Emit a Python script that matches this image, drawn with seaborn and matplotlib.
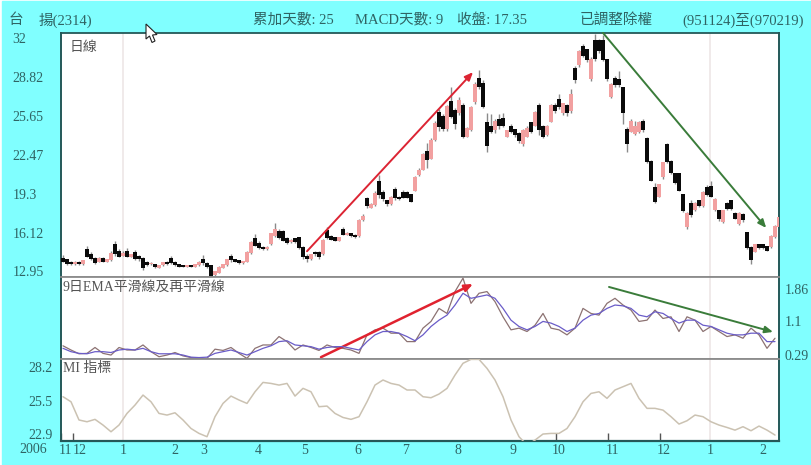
import numpy as np
import pandas as pd
import matplotlib
matplotlib.use("Agg")
import matplotlib.pyplot as plt
from matplotlib.patches import Polygon, Rectangle
import seaborn as sns

W, H = 812, 465

# daily candles
opens = [14.0,13.9,13.7,13.6,13.7,13.6,14.7,14.3,14.0,13.8,
         14.0,13.8,13.9,15.1,14.6,14.3,14.6,14.2,14.5,14.2,
         14.0,13.7,13.6,13.5,13.3,13.5,13.7,14.0,13.7,13.5,
         13.45,13.4,13.45,13.4,13.5,13.9,13.6,13.4,12.7,12.9,
         13.3,13.5,14.2,13.9,13.8,13.7,13.8,14.5,15.6,15.2,
         14.9,14.8,15.2,15.9,16.2,16.2,15.6,15.4,15.6,15.7,
         14.9,14.2,14.0,14.5,14.5,14.4,16.3,15.8,15.7,15.5,
         16.4,16.0,16.0,15.9,15.9,17.2,18.9,18.2,18.4,20.3,
         19.4,18.7,18.5,19.6,19.0,19.4,19.4,19.2,19.6,20.9,
         21.3,22.7,22.2,23.7,25.9,25.6,24.6,26.8,26.1,25.9,
         26.5,24.0,24.5,26.8,28.7,28.3,25.05,24.8,24.5,25.3,
         25.4,24.0,24.8,24.5,24.2,23.4,24.0,25.05,24.9,26.5,
         24.8,24.1,25.2,26.5,26.95,25.9,26.5,26.1,29.5,29.8,
         31.3,31.0,28.7,31.8,31.8,31.8,30.2,27.2,28.7,28.6,
         27.9,24.5,24.4,24.2,24.4,25.2,23.8,21.9,19.8,19.1,
         20.7,23.3,21.9,20.9,20.9,19.2,16.6,18.5,18.0,18.7,
         18.3,19.8,19.9,18.0,17.9,17.05,18.5,18.7,17.7,16.9,
         17.6,16.1,14.9,14.6,15.1,15.15,15.0,15.0,15.8,16.6]
closes = [13.8,13.6,13.6,13.7,13.6,13.8,14.2,14.0,13.7,14.0,
          13.8,13.9,14.4,14.4,14.2,14.4,14.2,14.3,14.0,14.0,
          13.3,13.55,13.6,13.35,13.45,13.65,13.6,13.7,13.5,13.4,
          13.35,13.45,13.35,13.5,13.7,13.7,13.4,12.6,12.9,13.3,
          13.5,13.9,13.9,13.75,13.7,13.75,14.5,15.3,15.1,14.9,
          14.8,14.9,16.0,16.4,15.7,15.5,15.3,15.5,15.4,14.9,
          14.2,14.0,14.3,14.4,14.2,15.5,15.7,15.6,15.5,15.7,
          16.0,16.05,15.9,15.85,17.1,17.4,18.3,18.4,19.3,19.2,
          18.9,18.5,19.0,19.0,18.9,19.0,19.0,18.7,20.6,21.2,
          22.5,22.1,23.6,25.0,24.8,24.6,26.4,25.6,25.0,26.9,
          24.0,24.6,26.3,28.2,28.0,26.4,23.2,24.4,25.2,24.9,
          24.9,24.4,24.4,24.1,23.6,24.4,24.6,24.4,25.9,24.5,
          24.0,24.8,26.5,26.1,26.4,26.6,25.9,27.4,28.6,30.9,
          30.6,30.2,30.2,30.3,31.0,30.2,28.7,28.2,28.2,28.2,
          25.9,23.4,25.2,24.8,25.05,24.5,21.9,20.4,18.7,20.0,
          21.8,21.9,21.0,20.2,19.6,17.9,17.7,17.6,18.5,18.3,
          19.4,19.2,19.1,18.8,17.3,17.9,18.1,18.1,17.3,17.7,
          17.2,14.9,13.9,15.1,14.9,14.9,14.7,15.8,16.6,17.35]
highs = [14.3,14.0,13.8,13.8,13.8,13.9,15.0,14.5,14.1,14.1,
         14.1,14.0,14.6,15.4,14.8,14.6,14.9,14.4,14.7,14.3,
         14.1,13.8,13.7,13.6,13.5,13.7,13.8,14.2,13.8,13.6,
         13.5,13.5,13.5,13.6,13.8,14.3,13.7,13.5,12.9,13.4,
         13.6,14.0,14.4,14.0,13.9,13.8,14.6,15.4,16.0,15.4,
         15.0,15.0,16.1,16.9,16.4,16.3,15.8,15.6,15.7,15.8,
         15.0,14.4,14.4,14.6,14.6,15.6,16.6,15.9,15.8,15.8,
         16.6,16.2,16.1,16.0,17.2,17.6,19.0,18.5,19.5,20.8,
         19.6,18.8,19.1,19.8,19.1,19.6,19.5,19.3,20.7,21.4,
         22.6,23.4,23.8,25.2,26.2,25.8,26.5,28.0,26.3,27.2,
         26.7,24.7,26.4,28.4,29.4,28.6,25.9,25.8,25.4,25.8,
         25.9,24.5,25.0,24.6,24.3,24.6,24.8,25.1,26.0,26.7,
         24.9,24.9,26.6,26.7,27.4,26.7,26.6,27.8,29.7,31.0,
         31.5,31.1,30.4,32.3,31.9,32.2,30.3,28.3,28.9,29.3,
         28.0,24.7,25.4,25.2,25.2,25.4,23.9,22.0,20.2,20.1,
         21.9,23.4,22.0,21.0,21.0,19.3,17.8,18.8,18.6,18.8,
         19.5,20.0,20.3,18.9,18.0,18.0,18.6,18.8,17.8,17.8,
         17.7,16.2,15.0,15.2,15.2,15.2,15.0,15.9,16.7,17.5]
lows = [13.7,13.5,13.5,13.5,13.5,13.5,14.1,13.9,13.6,13.7,
        13.7,13.7,13.8,14.2,14.1,14.2,14.1,14.1,13.9,13.8,
        13.1,13.4,13.5,13.2,13.2,13.4,13.5,13.6,13.4,13.3,
        13.3,13.3,13.3,13.3,13.4,13.5,13.2,12.4,12.6,12.8,
        13.2,13.4,13.7,13.7,13.6,13.6,13.7,14.4,15.0,14.8,
        14.7,14.7,15.1,15.8,15.6,15.4,15.2,15.3,15.3,14.8,
        14.0,13.7,13.9,14.2,14.0,14.3,15.6,15.5,15.4,15.4,
        15.9,15.9,15.8,15.7,15.8,17.1,18.1,18.1,18.3,18.9,
        18.7,18.3,18.4,18.8,18.8,18.9,18.9,18.6,19.5,20.7,
        21.2,21.4,22.1,23.6,24.4,24.4,24.4,25.5,24.6,25.7,
        23.8,23.9,24.4,26.6,27.8,26.3,22.7,24.2,24.2,24.6,
        24.7,23.9,24.2,23.9,23.4,23.2,23.9,24.2,24.8,24.1,
        23.8,24.0,25.1,25.9,26.2,25.7,25.6,25.9,28.3,29.6,
        30.4,30.0,28.5,30.1,30.8,30.1,28.5,27.1,28.0,28.0,
        25.0,22.7,24.3,24.1,24.2,24.3,21.8,20.3,18.5,19.0,
        20.5,21.8,20.9,20.1,19.5,17.8,16.4,17.4,17.9,18.2,
        18.2,19.1,19.0,17.9,17.1,16.9,18.0,18.0,17.2,16.7,
        17.0,14.8,13.6,14.5,14.8,14.8,14.6,14.9,15.7,16.5]

# EMA lines, one reading every second day
ema_fast = [0.51,0.41,0.32,0.33,0.47,0.33,0.29,0.47,0.41,0.41,
            0.53,0.37,0.25,0.29,0.35,0.27,0.23,0.21,0.21,0.43,
            0.40,0.47,0.33,0.21,0.45,0.53,0.53,0.73,0.61,0.41,
            0.53,0.47,0.40,0.53,0.47,0.45,0.41,0.33,0.77,0.89,
            0.93,0.81,0.81,0.61,0.61,0.93,1.09,1.40,1.28,1.80,
            2.12,1.52,1.76,1.80,1.56,1.20,0.89,0.93,0.85,1.00,
            1.28,0.93,0.89,0.77,0.93,1.40,1.28,1.24,1.52,1.64,
            1.48,1.36,1.09,1.12,1.36,1.16,1.20,0.85,1.20,1.12,
            0.85,0.97,0.85,0.73,0.77,0.69,0.93,0.77,0.45,0.69]
ema_slow = [0.45,0.37,0.33,0.32,0.37,0.37,0.35,0.41,0.43,0.41,
            0.45,0.37,0.32,0.32,0.32,0.29,0.24,0.23,0.24,0.33,
            0.37,0.41,0.35,0.29,0.37,0.45,0.51,0.61,0.63,0.53,
            0.51,0.49,0.43,0.47,0.49,0.49,0.45,0.41,0.61,0.77,
            0.85,0.85,0.81,0.73,0.63,0.77,0.97,1.12,1.24,1.48,
            1.76,1.64,1.68,1.72,1.64,1.40,1.12,0.97,0.89,0.97,
            1.09,1.05,0.97,0.85,0.93,1.12,1.24,1.28,1.40,1.48,
            1.46,1.40,1.24,1.20,1.32,1.28,1.16,1.05,1.12,1.12,
            1.00,0.97,0.89,0.81,0.77,0.77,0.81,0.81,0.61,0.61]

# MI line, one reading every second day
mi_vals = [25.84,25.44,24.0,23.86,24.05,23.6,23.07,23.6,24.52,25.18,
           25.97,25.44,24.52,24.39,24.57,24.0,23.33,22.94,22.68,24.26,
           25.31,25.89,25.58,25.31,26.23,26.97,26.89,26.76,26.89,25.89,
           26.5,26.23,25.05,25.1,24.52,24.2,24.05,24.26,25.44,26.76,
           27.16,26.89,26.76,26.37,26.37,25.84,25.76,26.05,26.5,27.55,
           28.48,28.79,28.79,28.08,27.16,25.84,24.0,22.68,22.02,22.41,
           22.89,22.94,22.94,23.33,24.26,25.44,26.1,26.23,25.71,26.37,
           26.63,26.89,25.71,24.92,24.92,24.78,24.26,23.68,23.94,24.39,
           24.26,23.86,23.6,23.41,23.2,23.47,23.15,23.52,23.2,22.81]

price_ticks = [32, 28.82, 25.65, 22.47, 19.3, 16.12, 12.95]
ema_ticks = [1.86, 1.1, 0.29]
mi_ticks = [28.2, 25.5, 22.9]
month_labels = ["11","12","1","2","3","4","5","6","7","8","9","10","11","12","1","2"]
month_label_pos = [0.5,4.25,15,28,35.25,48.75,60.5,73.75,85.75,98.75,112.5,124,137.25,150.25,161.75,175]
month_tick_pos = [-0.5,2.5,15,28,35.25,48.75,60.5,73.75,85.75,98.75,112.5,123.25,136.25,149.25,161.75,175]

CYAN = "#80FFFF"
TEAL = "#2F6464"
FRAME = "#245858"
DIV = "#8C8C8C"
GRID = "#EDE6E6"

sns.set_theme(style="white")
plt.rcParams["font.family"] = ["Liberation Serif", "Noto Sans CJK TC"]


def make_axes(fig, left, top, right, bottom):
    return fig.add_axes([left / W, 1 - bottom / H, (right - left) / W, (bottom - top) / H])


def put_text(fig, px, py, s, size=10.5, color=TEAL):
    fig.text(px / W, 1 - py / H, s, fontsize=size, color=color, ha="left", va="center")


def arrow(ax, start, end, color, lw=1.4):
    ax.annotate("", xy=end, xytext=start, annotation_clip=False,
                arrowprops=dict(arrowstyle="-|>,head_length=0.4,head_width=0.17", color=color,
                                lw=lw, shrinkA=0, shrinkB=0))


fig = plt.figure(figsize=(W / 100, H / 100), dpi=100, facecolor="white")
fig.add_artist(Rectangle((2 / W, 0), 1, 1 - 1 / H, transform=fig.transFigure, color=CYAN, zorder=-5))

ax_p = make_axes(fig, 61, 33.5, 779, 277)
ax_e = make_axes(fig, 61, 277, 779, 359)
ax_m = make_axes(fig, 61, 359, 779, 441)

df = pd.DataFrame({"day": np.arange(len(opens)), "open": opens, "close": closes,
                   "high": highs, "low": lows})
df["up"] = df["close"] >= df["open"]

# candles
ax_p.vlines(df["day"], df["low"], df["high"], color="#8A8A8A", lw=1.0, zorder=2)
for up, col in [(True, "#F2A0A0"), (False, "#0A0A0A")]:
    sub = df[df["up"] == up]
    ax_p.bar(sub["day"], (sub["close"] - sub["open"]).abs() + 0.1,
             bottom=sub[["open", "close"]].min(axis=1) - 0.05,
             width=0.95, color=col, linewidth=0, zorder=3)
ax_p.set_ylim(12.5, 32.35)

# EMA panel
ema_df = pd.DataFrame({"day": np.arange(0, 180, 2), "fast": ema_fast, "slow": ema_slow})
sns.lineplot(data=ema_df, x="day", y="fast", ax=ax_e, color="#8C7272", linewidth=0.9, zorder=3)
sns.lineplot(data=ema_df, x="day", y="slow", ax=ax_e, color="#6A5CC8", linewidth=0.9, zorder=4)
ax_e.set_ylim(0.196, 2.147)

# MI panel
mi_df = pd.DataFrame({"day": np.arange(0, 180, 2), "mi": mi_vals})
sns.lineplot(data=mi_df, x="day", y="mi", ax=ax_m, color="#CBC2B2", linewidth=1.1, zorder=3)
ax_m.set_ylim(22.34, 28.82)

for ax in (ax_p, ax_e, ax_m):
    ax.set_xlim(-0.5, 179)
    ax.set_xlabel("")
    ax.set_ylabel("")
    ax.set_facecolor("white")
    ax.patch.set_zorder(0)
    ax.axvline(15, color=GRID, lw=1.2, zorder=1)
    ax.axvline(161.75, color=GRID, lw=1.2, zorder=1)
    ax.spines["left"].set_color(FRAME)
    ax.spines["right"].set_color(FRAME)
    ax.spines["left"].set_linewidth(1.4)
    ax.spines["right"].set_linewidth(1.4)
    ax.spines["top"].set_color(DIV)
    ax.spines["bottom"].set_color(DIV)
    ax.spines["top"].set_linewidth(1.3)
    ax.spines["bottom"].set_linewidth(1.3)

ax_p.spines["top"].set_color(FRAME)
ax_m.spines["bottom"].set_color(FRAME)
ax_m.spines["bottom"].set_linewidth(1.6)

ax_p.set_xticks([])
ax_e.set_xticks([])

# left tick labels sit left-aligned out in the cyan margin
ax_p.set_yticks(price_ticks, [str(t) for t in price_ticks])
ax_p.tick_params(axis="y", length=0, pad=35, labelsize=10, labelcolor=TEAL)
for lab in ax_p.get_yticklabels():
    lab.set_ha("left")

ax_e.yaxis.tick_right()
ax_e.set_yticks(ema_ticks, [str(t) for t in ema_ticks])
ax_e.tick_params(axis="y", length=0, pad=4, labelsize=10, labelcolor=TEAL)

ax_m.set_yticks(mi_ticks, [str(t) for t in mi_ticks])
ax_m.tick_params(axis="y", length=0, pad=6, labelsize=10, labelcolor=TEAL)

ax_m.set_xticks(month_label_pos, month_labels)
ax_m.set_xticks(month_tick_pos, minor=True)
ax_m.tick_params(axis="x", which="major", length=0, pad=2, labelsize=10, labelcolor=TEAL)
ax_m.tick_params(axis="x", which="minor", length=6, width=1, direction="in", color="#555555", bottom=True)

# trend arrows
arrow(ax_p, (61, 14.6), (102.5, 29.2), "#DC2433")
arrow(ax_p, (135, 32.4), (175.8, 16.5), "#3A7C3A")
arrow(ax_e, (64.5, 0.24), (102.5, 1.98), "#E0222F", lw=1.8)
arrow(ax_e, (136.5, 1.91), (177.5, 0.84), "#3A7C3A")

# header and panel captions
put_text(fig, 9, 20, "台")
put_text(fig, 39, 20, "揚(2314)")
put_text(fig, 253, 20, "累加天數: 25")
put_text(fig, 355, 20, "MACD天數: 9")
put_text(fig, 457, 20, "收盤: 17.35")
put_text(fig, 580, 20, "已調整除權")
put_text(fig, 682, 20, "(951124)至(970219)")
put_text(fig, 19, 449, "2006", size=10)
put_text(fig, 70, 48, "日線", size=10, color="#555555")
put_text(fig, 63, 287, "9日EMA平滑線及再平滑線", size=10, color="#555555")
put_text(fig, 63, 368, "MI 指標", size=10, color="#555555")

# mouse pointer left in the screenshot
cursor_px = [(146, 24), (146, 39), (149.5, 36), (152, 42.5), (155, 41), (152.5, 35), (157, 34.5)]
cursor = [(x / W, 1 - y / H) for x, y in cursor_px]
fig.add_artist(Polygon(cursor, closed=True, transform=fig.transFigure, facecolor="white",
                       edgecolor="#222222", linewidth=0.8, zorder=10))

fig.savefig("out.png", dpi=100, facecolor=fig.get_facecolor())
